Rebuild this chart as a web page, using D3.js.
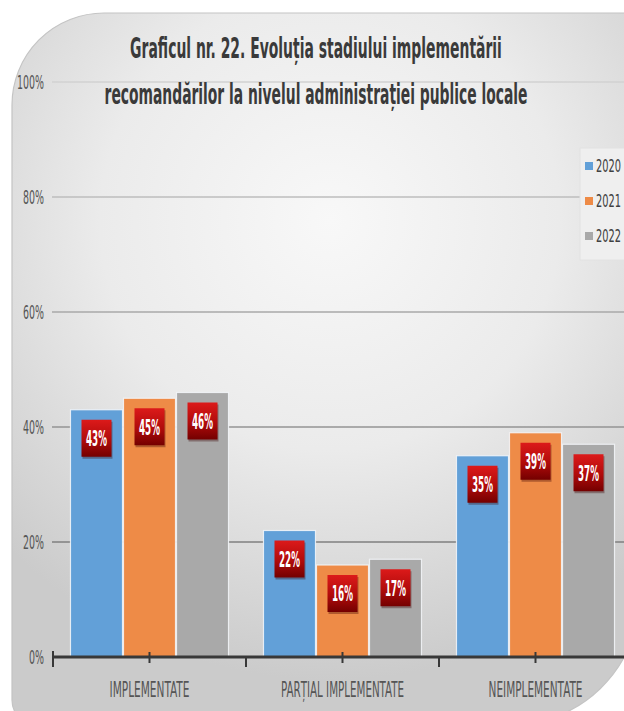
<!DOCTYPE html>
<html>
<head>
<meta charset="utf-8">
<script src="https://cdn.jsdelivr.net/npm/d3@7/dist/d3.min.js"></script>
<style>
  html, body { margin: 0; padding: 0; background: #ffffff; }
  svg { display: block; }
</style>
</head>
<body>
<svg id="chart" width="624" height="711"></svg>
<script>
// Chart data
const categories = ["IMPLEMENTATE", "PARȚIAL IMPLEMENTATE", "NEIMPLEMENTATE"];
const years = ["2020", "2021", "2022"];
const values2020 = [43, 22, 35];
const values2021 = [45, 16, 39];
const values2022 = [46, 17, 37];
const yTicks = [0, 20, 40, 60, 80, 100];
const titleLines = [
  "Graficul nr. 22. Evoluția stadiului implementării",
  "recomandărilor la nivelul administrației publice locale"
];

const seriesValues = [values2020, values2021, values2022];
const colors = ["#62a0d8", "#ee8b47", "#a9a9a9"];

const svg = d3.select("#chart");
const defs = svg.append("defs");

// Condense a text horizontally to a given width, keeping its anchor point in place
function condense(sel, widthFn) {
  sel.each(function (d, i) {
    const el = d3.select(this);
    const w = this.getComputedTextLength();
    const target = typeof widthFn === "function" ? widthFn(d, i) : widthFn;
    if (!w || !target) return;
    const s = target / w;
    const x = +el.attr("x") || 0;
    el.attr("x", x / s).attr("transform", `scale(${s},1)`);
  });
}

// Panel background gradient
const bg = defs.append("radialGradient")
  .attr("id", "bgGrad")
  .attr("gradientUnits", "userSpaceOnUse")
  .attr("cx", 330).attr("cy", 220).attr("r", 460);
bg.append("stop").attr("offset", "0").attr("stop-color", "#f8f8f8");
bg.append("stop").attr("offset", "0.5").attr("stop-color", "#ebebeb");
bg.append("stop").attr("offset", "1").attr("stop-color", "#cbcbcb");

// Gridline shade: faint at top, darker towards the baseline
const gg = defs.append("linearGradient")
  .attr("id", "gridGrad")
  .attr("gradientUnits", "userSpaceOnUse")
  .attr("x1", 0).attr("y1", 80).attr("x2", 0).attr("y2", 560);
gg.append("stop").attr("offset", "0").attr("stop-color", "#d2d2d2");
gg.append("stop").attr("offset", "1").attr("stop-color", "#7c7c7c");

// Value label box gradient
const lg = defs.append("linearGradient")
  .attr("id", "labelGrad")
  .attr("x1", 0).attr("y1", 0).attr("x2", 0).attr("y2", 1);
lg.append("stop").attr("offset", "0").attr("stop-color", "#dc1a1a");
lg.append("stop").attr("offset", "0.55").attr("stop-color", "#b00b0b");
lg.append("stop").attr("offset", "1").attr("stop-color", "#740000");

// Rounded panel
svg.append("path")
  .attr("d", "M12,105 A92,92 0 0 1 104,13 L640,13 L640,595 A130,130 0 0 1 505,725 L37,725 A25,25 0 0 1 12,700 Z")
  .attr("fill", "url(#bgGrad)")
  .attr("stroke", "#c4c4c4")
  .attr("stroke-width", 1.2);

// Scales
const y = d3.scaleLinear().domain([0, 100]).range([657, 82]);
const x0 = d3.scaleBand().domain(categories).range([53, 632])
  .paddingInner(0.176).paddingOuter(0.088);
const x1 = d3.scaleBand().domain(years).range([0, x0.bandwidth()]).padding(0);

const fontStack = "'DejaVu Sans Condensed', 'Liberation Sans Narrow', 'Liberation Sans', sans-serif";

// Gridlines
svg.append("g")
  .selectAll("line")
  .data(yTicks.filter(d => d > 0))
  .join("line")
  .attr("x1", 52).attr("x2", 624)
  .attr("y1", d => y(d)).attr("y2", d => y(d))
  .attr("stroke", "url(#gridGrad)")
  .attr("stroke-width", 1.6);

// Y axis labels
const yAxis = svg.append("g")
  .attr("transform", "translate(46,0)")
  .call(d3.axisLeft(y).tickValues(yTicks).tickSize(0).tickFormat(d => d + "%"));
yAxis.select(".domain").remove();
yAxis.selectAll("text")
  .attr("x", -2)
  .attr("dy", "0.36em")
  .attr("fill", "#555555")
  .style("font-family", fontStack)
  .style("font-size", "19px")
  .call(condense, d => d === 100 ? 27 : (d === 0 ? 15 : 21));

// Bars
const rows = categories.map((c, i) => ({
  category: c,
  items: years.map((yr, j) => ({ year: yr, value: seriesValues[j][i], color: colors[j] }))
}));

const groups = svg.append("g")
  .selectAll("g")
  .data(rows)
  .join("g")
  .attr("transform", d => `translate(${x0(d.category)},0)`);

groups.selectAll("rect.bar")
  .data(d => d.items)
  .join("rect")
  .attr("class", "bar")
  .attr("x", d => x1(d.year) + 0.5)
  .attr("width", x1.bandwidth() - 1)
  .attr("y", d => y(d.value))
  .attr("height", d => y(0) - y(d.value))
  .attr("fill", d => d.color)
  .attr("stroke", "#f4f7fa")
  .attr("stroke-opacity", 0.85)
  .attr("stroke-width", 1.2);

// Value labels in red boxes
const boxW = 30, boxH = 37;
const lab = groups.selectAll("g.lab")
  .data(d => d.items)
  .join("g")
  .attr("class", "lab")
  .attr("transform", d => `translate(${x1(d.year) + x1.bandwidth() / 2},${y(d.value) + 10})`);

lab.append("rect")
  .attr("x", -boxW / 2 + 1).attr("y", 2)
  .attr("width", boxW).attr("height", boxH)
  .attr("fill", "#3a0000").attr("opacity", 0.35);
lab.append("rect")
  .attr("x", -boxW / 2).attr("y", 0)
  .attr("width", boxW).attr("height", boxH)
  .attr("fill", "url(#labelGrad)");
lab.append("text")
  .attr("x", 0).attr("y", boxH / 2 + 8)
  .attr("text-anchor", "middle")
  .attr("fill", "#ffffff")
  .style("font-family", fontStack)
  .style("font-weight", "bold")
  .style("font-size", "21px")
  .text(d => d.value + "%")
  .call(condense, 21);

// X axis: baseline, centre ticks and category labels
const xAxis = svg.append("g")
  .attr("transform", `translate(0,${y(0)})`)
  .call(d3.axisBottom(x0).tickSizeInner(6).tickSizeOuter(0).tickPadding(19));
xAxis.select(".domain")
  .attr("d", `M53,0H624`)
  .attr("stroke", "#383838")
  .attr("stroke-width", 3);
xAxis.selectAll(".tick line")
  .attr("y1", -5).attr("y2", 6)
  .attr("stroke", "#383838").attr("stroke-width", 2);
const labelWidths = { "IMPLEMENTATE": 80, "PARȚIAL IMPLEMENTATE": 123, "NEIMPLEMENTATE": 94 };
xAxis.selectAll(".tick text")
  .attr("fill", "#555555")
  .style("font-family", fontStack)
  .style("font-size", "21px")
  .call(condense, d => labelWidths[d]);

// Category boundary ticks
const bounds = categories.map(c => x0(c) - x0.step() * x0.paddingOuter());
xAxis.append("g")
  .selectAll("line")
  .data(bounds)
  .join("line")
  .attr("x1", d => d).attr("x2", d => d)
  .attr("y1", (d, i) => i === 0 ? -6 : 0).attr("y2", 10)
  .attr("stroke", "#383838").attr("stroke-width", 2);

// Title
svg.append("g")
  .selectAll("text")
  .data(titleLines)
  .join("text")
  .attr("x", 316)
  .attr("y", (d, i) => i === 0 ? 58 : 104)
  .attr("text-anchor", "middle")
  .attr("fill", "#3a3a3a")
  .style("font-family", fontStack)
  .style("font-weight", "bold")
  .style("font-size", "29px")
  .text(d => d)
  .call(condense, (d, i) => i === 0 ? 372 : 423);

// Legend
const legend = svg.append("g");
legend.append("rect")
  .attr("x", 580).attr("y", 148).attr("width", 60).attr("height", 112)
  .attr("fill", "#efefef").attr("stroke", "#e2e2e2");
const li = legend.selectAll("g.item")
  .data(years)
  .join("g")
  .attr("class", "item")
  .attr("transform", (d, i) => `translate(585,${166 + i * 35})`);
li.append("rect")
  .attr("x", 0).attr("y", -4).attr("width", 8).attr("height", 8)
  .attr("fill", (d, i) => colors[i]);
li.append("text")
  .attr("x", 11).attr("y", 0).attr("dy", "0.36em")
  .attr("fill", "#404040")
  .style("font-family", fontStack)
  .style("font-size", "17px")
  .text(d => d)
  .call(condense, 25);
</script>
</body>
</html>
